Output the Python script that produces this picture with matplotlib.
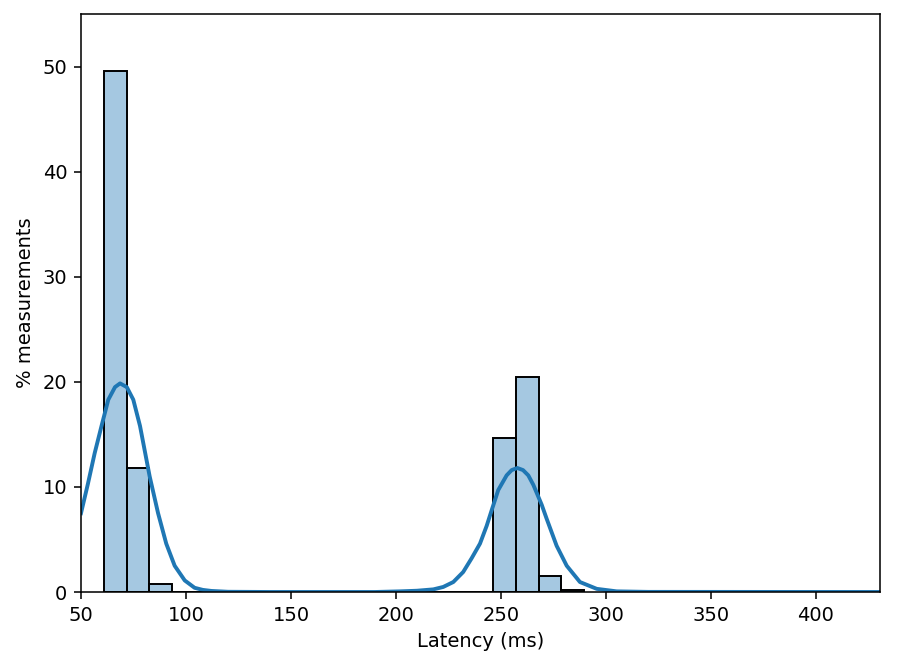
import numpy as np
import matplotlib as mpl

mpl.use('Agg')

import matplotlib.pyplot as plt

# histogram (percent of measurements per bin)
bin_lo = 60.8
bin_hi = 289.7
pct = [49.6, 11.8, 0.75, 0, 0, 0, 0, 0, 0, 0, 0, 0, 0, 0, 0, 0, 0,
       14.7, 20.5, 1.5, 0.2]

# kde curve
kde_x = [50.0, 53.3, 56.5, 59.9, 63.0, 66.2, 68.6, 71.8, 74.9, 78.1,
         82.7, 86.7, 90.6, 94.6, 99.4, 104.1, 108.0, 112.1, 120.0, 140.0,
         190.0, 201.9, 210.0, 217.8, 222.5, 227.3, 232.0, 236.0, 240.0, 243.2,
         245.6, 248.7, 252.7, 255.1, 257.8, 260.5, 263.0, 265.4, 269.4, 271.7,
         276.5, 281.3, 287.6, 295.6, 305.1, 320.0, 430.0]
kde_y = [7.5, 10.3, 13.2, 15.9, 18.3, 19.5, 19.85, 19.5, 18.3, 15.8,
         11.0, 7.5, 4.6, 2.5, 1.1, 0.4, 0.2, 0.1, 0.02, 0.0,
         0.0, 0.06, 0.12, 0.25, 0.48, 0.95, 1.9, 3.2, 4.6, 6.3,
         7.8, 9.7, 11.1, 11.6, 11.8, 11.6, 11.1, 10.2, 8.3, 7.0,
         4.4, 2.5, 0.95, 0.3, 0.06, 0.01, 0.0]

edges = np.linspace(bin_lo, bin_hi, len(pct) + 1)
width = edges[1] - edges[0]

fig = plt.figure(figsize=(899 / 140, 672 / 140), dpi=140)
ax = fig.add_axes([81 / 899, 1 - 592 / 672, 799 / 899, 578 / 672])

ax.bar(edges[:-1], pct, width=width, align='edge',
       color='#1f77b4', alpha=0.4, edgecolor='none')
ax.bar(edges[:-1], pct, width=width, align='edge',
       fill=False, edgecolor='black', linewidth=1)
ax.plot(kde_x, kde_y, color='#1f77b4', linewidth=2,
        solid_joinstyle='round')

ax.set_xlim(50, 430.5)
ax.set_ylim(0, 55)
ax.set_xticks(np.arange(50, 401, 50))
ax.set_yticks(np.arange(0, 51, 10))
ax.set_xlabel('Latency (ms)')
ax.set_ylabel('% measurements')

plt.savefig('out.png')
plt.close()
